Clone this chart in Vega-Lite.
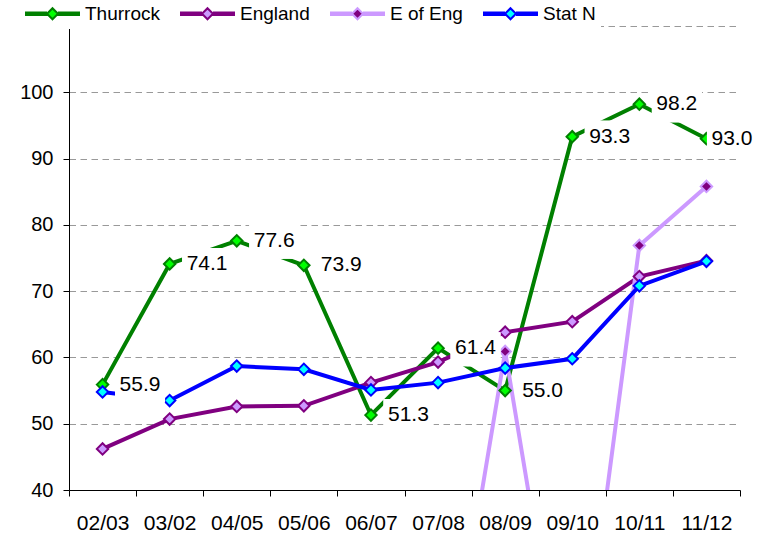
{
  "$schema": "https://vega.github.io/schema/vega-lite/v6.json",
  "width": 671,
  "height": 464,
  "autosize": {"type": "none"},
  "padding": {"left": 69, "top": 26, "right": 25, "bottom": 51},
  "background": "white",
  "config": {
    "view": {"stroke": null},
    "font": "Liberation Sans",
    "legend": {
      "orient": "none",
      "legendX": -53,
      "legendY": -27,
      "direction": "horizontal",
      "fillColor": "white",
      "padding": 5,
      "columnPadding": 16,
      "labelFontSize": 19,
      "labelFont": "Liberation Sans",
      "labelColor": "black",
      "symbolSize": 121,
      "symbolStrokeWidth": 2,
      "labelOffset": 45,
      "symbolType": "M-1,-0.22L3,-0.22M-1,0L3,0M-1,0.22L3,0.22M5,-0.22L9,-0.22M5,0L9,0M5,0.22L9,0.22M4,-1L5,0L4,1L3,0Z"
    }
  },
  "data": {
    "values": [
      {"year": "02/03", "series": "Thurrock", "value": 55.9},
      {"year": "03/02", "series": "Thurrock", "value": 74.1},
      {"year": "04/05", "series": "Thurrock", "value": 77.6},
      {"year": "05/06", "series": "Thurrock", "value": 73.9},
      {"year": "06/07", "series": "Thurrock", "value": 51.3},
      {"year": "07/08", "series": "Thurrock", "value": 61.4},
      {"year": "08/09", "series": "Thurrock", "value": 55.0},
      {"year": "09/10", "series": "Thurrock", "value": 93.3},
      {"year": "10/11", "series": "Thurrock", "value": 98.2},
      {"year": "11/12", "series": "Thurrock", "value": 93.0},
      {"year": "02/03", "series": "England", "value": 46.2},
      {"year": "03/02", "series": "England", "value": 50.7},
      {"year": "04/05", "series": "England", "value": 52.6},
      {"year": "05/06", "series": "England", "value": 52.7},
      {"year": "06/07", "series": "England", "value": 56.2},
      {"year": "07/08", "series": "England", "value": 59.3},
      {"year": "08/09", "series": "England", "value": 63.8},
      {"year": "09/10", "series": "England", "value": 65.4},
      {"year": "10/11", "series": "England", "value": 72.2},
      {"year": "11/12", "series": "England", "value": 74.6},
      {"year": "07/08", "series": "E of Eng", "value": 0},
      {"year": "08/09", "series": "E of Eng", "value": 60.9},
      {"year": "09/10", "series": "E of Eng", "value": 0},
      {"year": "10/11", "series": "E of Eng", "value": 76.9},
      {"year": "11/12", "series": "E of Eng", "value": 85.8},
      {"year": "02/03", "series": "Stat N", "value": 54.8},
      {"year": "03/02", "series": "Stat N", "value": 53.5},
      {"year": "04/05", "series": "Stat N", "value": 58.7},
      {"year": "05/06", "series": "Stat N", "value": 58.2},
      {"year": "06/07", "series": "Stat N", "value": 55.1},
      {"year": "07/08", "series": "Stat N", "value": 56.2},
      {"year": "08/09", "series": "Stat N", "value": 58.4},
      {"year": "09/10", "series": "Stat N", "value": 59.8},
      {"year": "10/11", "series": "Stat N", "value": 70.8},
      {"year": "11/12", "series": "Stat N", "value": 74.5}
    ]
  },
  "encoding": {
    "x": {
      "field": "year",
      "type": "ordinal",
      "sort": null,
      "scale": {"type": "band", "paddingInner": 0, "paddingOuter": 0},
      "axis": {
        "title": null,
        "labelAngle": 0,
        "labelFontSize": 21,
        "labelColor": "black",
        "labelPadding": 16,
        "tickSize": 6,
        "tickColor": "black",
        "domainColor": "black",
        "tickBand": "extent",
        "tickExtra": true,
        "grid": false
      }
    },
    "y": {
      "field": "value",
      "type": "quantitative",
      "scale": {"domain": [40, 110], "nice": false, "zero": false},
      "axis": {
        "title": null,
        "values": [40, 50, 60, 70, 80, 90, 100, 110],
        "labelExpr": "datum.value >= 110 ? '' : datum.label",
        "labelFontSize": 20,
        "labelColor": "black",
        "labelPadding": 10,
        "tickSize": 6,
        "tickColor": "black",
        "domainColor": "black",
        "grid": true,
        "gridDash": [6.5, 4.5],
        "gridColor": "#999999",
        "gridWidth": 1
      }
    }
  },
  "layer": [
    {
      "mark": {"type": "line", "strokeWidth": 4, "clip": true},
      "encoding": {
        "stroke": {
          "field": "series",
          "type": "nominal",
          "scale": {"domain": ["Thurrock", "England", "E of Eng", "Stat N"], "range": ["#008000", "#800080", "#CC99FF", "#0000FF"]},
          "legend": {"title": null}
        }
      }
    },
    {
      "mark": {"type": "point", "shape": "diamond", "filled": true, "size": 130, "strokeWidth": 2, "opacity": 1, "clip": true},
      "encoding": {
        "stroke": {
          "field": "series",
          "type": "nominal",
          "scale": {"domain": ["Thurrock", "England", "E of Eng", "Stat N"], "range": ["#008000", "#800080", "#CC99FF", "#0000FF"]},
          "legend": {"title": null}
        },
        "fill": {
          "field": "series",
          "type": "nominal",
          "scale": {"domain": ["Thurrock", "England", "E of Eng", "Stat N"], "range": ["#00FF00", "#CC99FF", "#800080", "#00FFFF"]},
          "legend": {"title": null}
        }
      }
    },
    {
      "transform": [{"filter": "datum.series == 'Thurrock' && datum.year != '11/12'"}],
      "mark": {"type": "rect", "fill": "#ffffff", "opacity": 1, "width": 50, "height": 34, "xOffset": 37.5, "yOffset": 1},
      "encoding": {}
    },
    {
      "transform": [{"filter": "datum.series == 'Thurrock' && datum.year == '11/12'"}],
      "mark": {"type": "rect", "fill": "#ffffff", "opacity": 1, "width": 50, "height": 34, "xOffset": 25.5, "yOffset": 1},
      "encoding": {}
    },
    {
      "transform": [{"filter": "datum.series == 'Thurrock' && datum.year != '11/12'"}],
      "mark": {"type": "point", "shape": "square", "filled": true, "fill": "#ffffff", "stroke": null, "opacity": 1, "size": 1156, "xOffset": 29.5, "yOffset": 1},
      "encoding": {}
    },
    {
      "transform": [{"filter": "datum.series == 'Thurrock' && datum.year != '11/12'"}],
      "mark": {"type": "point", "shape": "square", "filled": true, "fill": "#ffffff", "stroke": null, "opacity": 1, "size": 1156, "xOffset": 45.5, "yOffset": 1},
      "encoding": {}
    },
    {
      "transform": [{"filter": "datum.series == 'Thurrock' && datum.year == '11/12'"}],
      "mark": {"type": "point", "shape": "square", "filled": true, "fill": "#ffffff", "stroke": null, "opacity": 1, "size": 1156, "xOffset": 17.5, "yOffset": 1},
      "encoding": {}
    },
    {
      "transform": [{"filter": "datum.series == 'Thurrock' && datum.year == '11/12'"}],
      "mark": {"type": "point", "shape": "square", "filled": true, "fill": "#ffffff", "stroke": null, "opacity": 1, "size": 1156, "xOffset": 33.5, "yOffset": 1},
      "encoding": {}
    },
    {
      "transform": [{"filter": "datum.series == 'Thurrock'"}],
      "mark": {
        "type": "text",
        "align": "left",
        "baseline": "middle",
        "fontSize": 21,
        "color": "black",
        "xOffset": {"expr": "datum.year == '11/12' ? 5 : 17"},
        "yOffset": 0
      },
      "encoding": {"text": {"field": "value", "type": "quantitative", "format": ".1f"}}
    }
  ]
}
